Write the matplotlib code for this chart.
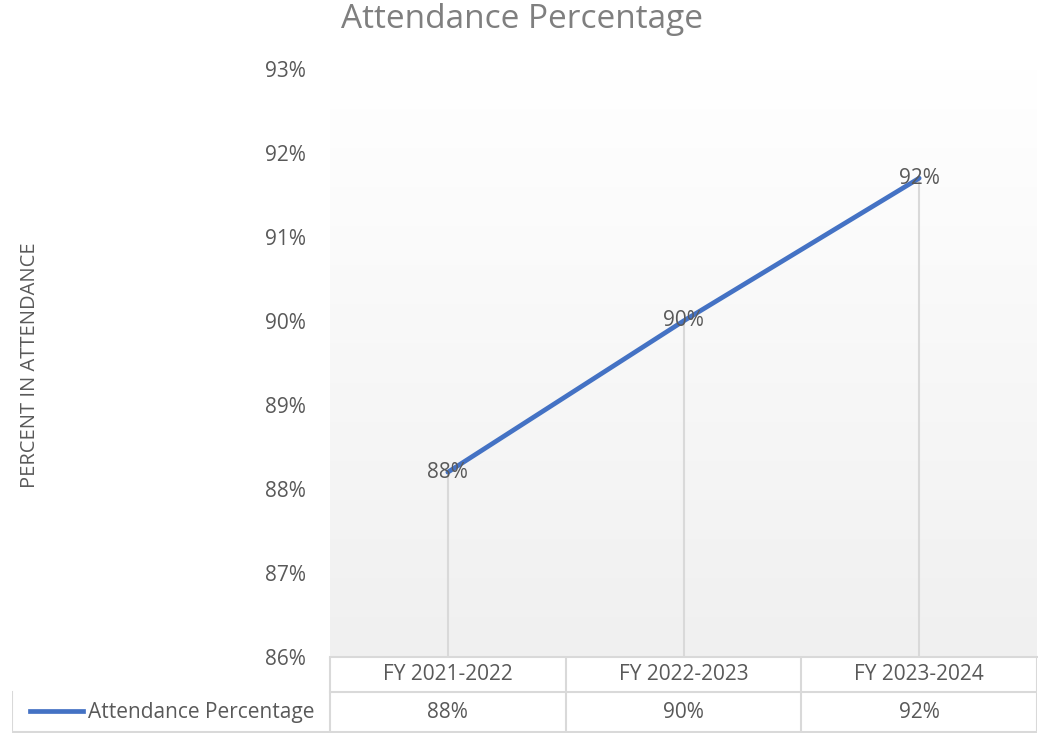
"""
    Attendance percentage line chart with data table
"""

import numpy as np
import matplotlib.pyplot as plt
from matplotlib.colors import LinearSegmentedColormap
from matplotlib.ticker import FuncFormatter

plt.rcParams['font.family'] = ['Open Sans', 'DejaVu Sans']

# Data
categories = ['FY 2021-2022', 'FY 2022-2023', 'FY 2023-2024']
attendance = [88.2, 90.0, 91.7]
series_name = 'Attendance Percentage'
y_ticks = [86, 87, 88, 89, 90, 91, 92, 93]

BLUE = '#4472C4'
GRID = '#d9d9d9'
TXT = '#595959'
FS = 15

W, H = 1038, 736
fig = plt.figure(figsize=(W / 100, H / 100), dpi=100)


def fx(px):
    return px / W


def fy(py):
    return 1 - py / H


# Plot area
left, right, top, bottom = 330, 1037, 69, 657
ax = fig.add_axes([fx(left), fy(bottom), fx(right - left), fy(top) - fy(bottom)])
ax.set_xlim(-0.5, len(categories) - 0.5)
ax.set_ylim(y_ticks[0], y_ticks[-1])

# gradient background
grad = np.linspace(0, 1, 256).reshape(-1, 1)
ax.imshow(grad, extent=[-0.5, len(categories) - 0.5, y_ticks[0], y_ticks[-1]],
          aspect='auto', cmap=LinearSegmentedColormap.from_list('bg', ['#f0f0f0', '#ffffff']),
          origin='lower', zorder=0)

x = np.arange(len(categories))
# drop lines
ax.vlines(x, y_ticks[0], attendance, color=GRID, lw=1.5, zorder=1)
ax.plot(x, attendance, color=BLUE, lw=3.4, solid_capstyle='round', zorder=2)
for xi, v in zip(x, attendance):
    ax.text(xi, v, f'{v:.0f}%', ha='center', va='center', fontsize=FS,
            color=TXT, zorder=3)

ax.set_xticks([])
ax.set_yticks(y_ticks)
ax.yaxis.set_major_formatter(FuncFormatter(lambda v, p: f'{v:.0f}%'))
ax.tick_params(axis='y', length=0, pad=17.5, labelsize=FS, labelcolor=TXT)
for s in ['top', 'left', 'right']:
    ax.spines[s].set_visible(False)
ax.spines['bottom'].set_color(GRID)
ax.spines['bottom'].set_linewidth(1.5)

# Data table
tleft, tbottom = 12, 733
x0 = -0.5 - (left - tleft) / ((right - left) / len(categories))
tab = fig.add_axes([fx(tleft), fy(tbottom), fx(right - tleft), fy(bottom) - fy(tbottom)])
tab.set_xlim(x0, len(categories) - 0.5)
tab.set_ylim(0, 2)
tab.axis('off')
lc = dict(color=GRID, lw=1.5)
tab.plot([-0.5, len(categories) - 0.5], [1.07, 1.07], **lc)
tab.plot([x0, len(categories) - 0.5], [0.02, 0.02], **lc)
tab.plot([x0, x0], [0.02, 1.07], **lc)
for b in np.arange(-0.5, len(categories), 1.0):
    tab.plot([b, b], [0.02, 2], **lc)
for xi, c in enumerate(categories):
    tab.text(xi, 1.53, c, ha='center', va='center', fontsize=FS, color=TXT)
    tab.text(xi, 0.53, f'{attendance[xi]:.0f}%', ha='center', va='center',
             fontsize=FS, color=TXT)
# legend key in row label
tab.plot([x0 + 0.076, x0 + 0.301], [0.57, 0.57], color=BLUE, lw=3.4)
tab.text(x0 + 0.322, 0.53, series_name, ha='left', va='center', fontsize=FS,
         color=TXT)

# Title and axis label
fig.text(fx(522), fy(19), 'Attendance Percentage', ha='center', va='center',
         fontsize=24, color='#7f7f7f')
fig.text(fx(30), fy(365), 'PERCENT IN ATTENDANCE', ha='center', va='center',
         rotation=90, fontsize=14.5, color=TXT)

fig.savefig('out.png', dpi=100)
